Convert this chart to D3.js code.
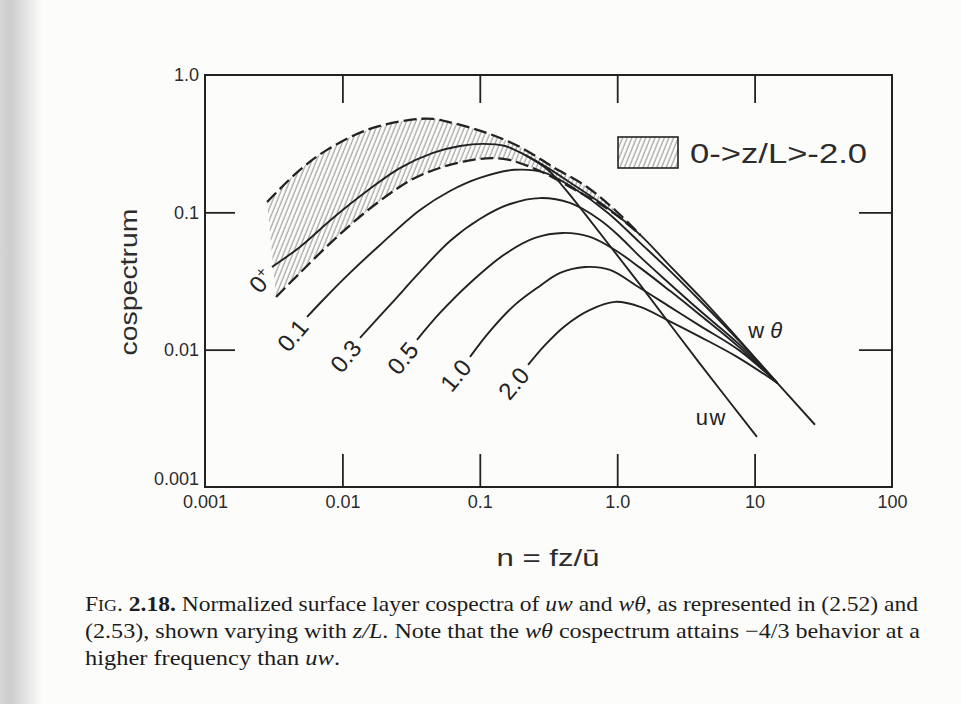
<!DOCTYPE html>
<html><head><meta charset="utf-8">
<script src="https://cdn.jsdelivr.net/npm/d3@7"></script>
<style>html,body{margin:0;padding:0;background:#fcfcfb;} svg{display:block;}</style>
</head><body><svg id="c" width="961" height="704"></svg>
<script>
// ---- data ----
const xTickValues = [0.001, 0.01, 0.1, 1, 10, 100];
const xTickLabels = ["0.001", "0.01", "0.1", "1.0", "10", "100"];
const yTickValues = [0.001, 0.01, 0.1, 1];
const yTickLabels = ["0.001", "0.01", "0.1", "1.0"];
const xInnerTicks = [0.01, 0.1, 1, 10];
const yInnerTicks = [0.01, 0.1];

const zLabels = ["0+", "0.1", "0.3", "0.5", "1.0", "2.0"];

// shaded unstable range 0 > z/L > -2.0 : upper and lower dashed bounds [n, cospectrum]
const bandUpper = [[0.00283,0.119],[0.00491,0.204],[0.00773,0.285],[0.0151,0.398],[0.0310,0.471],[0.0456,0.479],[0.0638,0.447],[0.113,0.378],[0.196,0.299],[0.341,0.214],[0.603,0.153],[0.964,0.104],[1.47,0.0685]];
const bandLower = [[0.00329,0.0242],[0.00491,0.0362],[0.00913,0.0662],[0.0179,0.117],[0.0349,0.181],[0.0807,0.237],[0.148,0.245],[0.261,0.204],[0.453,0.153],[0.750,0.115],[1.05,0.0910],[1.47,0.0685]];

// stable curves (shared low-frequency part + wθ branch)
const curve0p = [[0.00307,0.0400],[0.00491,0.0560],[0.00855,0.0910],[0.0151,0.143],[0.0262,0.210],[0.0456,0.271],[0.0718,0.304],[0.1055,0.315],[0.153,0.304],[0.213,0.262],[0.314,0.210],[0.493,0.156],[0.815,0.111],[1.47,0.0685],[2.42,0.0407],[4.01,0.0242],[7.83,0.0116],[14.6,0.00573],[27.5,0.00284]];
const curve01 = [[0.00553,0.0173],[0.00723,0.0230],[0.01135,0.0362],[0.01878,0.0579],[0.0367,0.104],[0.0607,0.143],[0.100,0.178],[0.180,0.204],[0.298,0.194],[0.493,0.148],[0.857,0.099],[1.47,0.0599],[2.42,0.0375],[4.01,0.0227],[7.83,0.0114],[14.6,0.00573]];
const curve03 = [[0.01343,0.0122],[0.0233,0.0223],[0.0367,0.0368],[0.0607,0.0619],[0.100,0.0895],[0.166,0.115],[0.274,0.127],[0.453,0.117],[0.750,0.0880],[1.05,0.0662],[1.47,0.0474],[2.42,0.0301],[4.01,0.0192],[7.83,0.0108],[14.6,0.00573]];
const curve05 = [[0.0349,0.0118],[0.0513,0.0185],[0.0849,0.0306],[0.153,0.0498],[0.252,0.0651],[0.403,0.0708],[0.634,0.0662],[0.964,0.0532],[1.47,0.0394],[2.42,0.0268],[4.01,0.0179],[7.83,0.0103],[14.6,0.00573]];
const curve10 = [[0.0849,0.00887],[0.119,0.0137],[0.180,0.0212],[0.274,0.0291],[0.384,0.0362],[0.583,0.0400],[0.886,0.0381],[1.39,0.0291],[2.42,0.0205],[4.01,0.0149],[7.83,0.0098],[14.6,0.00573]];
const curve20 = [[0.2245,0.00775],[0.298,0.0108],[0.417,0.0149],[0.634,0.0195],[0.964,0.0223],[1.47,0.0205],[2.30,0.0165],[4.01,0.0124],[7.45,0.00887],[14.6,0.00573]];

// uw branch (steeper high-frequency fall-off)
const uwBranch = [[0.213,0.262],[0.314,0.2035],[0.417,0.148],[0.583,0.0974],[0.886,0.0569],[1.47,0.0296],[4.01,0.00788],[10.4,0.00232]];

const legendLabel = "0->z/L>-2.0";
const xTitle = "n = fz/ū";
const yTitle = "cospectrum";

// ---- drawing ----
const W = 961, H = 704;
const M = {left:205, right:892, top:75, bottom:487};
const svg = d3.select("#c");
const defs = svg.append("defs");

const grad = defs.append("linearGradient").attr("id","shadow").attr("x1",0).attr("x2",1).attr("y1",0).attr("y2",0);
grad.append("stop").attr("offset","0").attr("stop-color","#d6d6d6");
grad.append("stop").attr("offset","0.25").attr("stop-color","#cdcdcd");
grad.append("stop").attr("offset","1").attr("stop-color","#fcfcfb");

svg.append("rect").attr("width",W).attr("height",H).attr("fill","#fcfcfb");
svg.append("rect").attr("x",0).attr("y",0).attr("width",42).attr("height",H).attr("fill","url(#shadow)");

const pat = defs.append("pattern").attr("id","hatch").attr("patternUnits","userSpaceOnUse")
  .attr("width",4.3).attr("height",10).attr("patternTransform","rotate(22)");
pat.append("line").attr("x1",1).attr("y1",-1).attr("x2",1).attr("y2",11).attr("stroke","#6a6a6a").attr("stroke-width",0.8);

const x = d3.scaleLog().domain([0.001,100]).range([M.left, M.right]);
const y = d3.scaleLog().domain([0.001,1]).range([M.bottom, M.top]);

const ink = "#222";
const sans = "'Liberation Sans', Arial, Helvetica, sans-serif";
const serif = "'Liberation Serif', 'Times New Roman', serif";

const line = d3.line().x(d=>x(d[0])).y(d=>y(d[1])).curve(d3.curveCatmullRom.alpha(0.5));

// hatched band
const bandPath = line(bandUpper) + line(bandLower.slice().reverse()).replace(/^M/,"L") + "Z";
svg.append("path").attr("d",bandPath).attr("fill","url(#hatch)").attr("stroke","none");
[bandUpper, bandLower].forEach(b=>{
  svg.append("path").attr("d",line(b)).attr("fill","none").attr("stroke",ink)
    .attr("stroke-width",2.3).attr("stroke-dasharray","13,5");
});

// curves
const curves = [curve0p, curve01, curve03, curve05, curve10, curve20];
curves.forEach(c=>{
  svg.append("path").attr("d",line(c)).attr("fill","none").attr("stroke",ink).attr("stroke-width",1.9);
});
svg.append("path").attr("d",line(uwBranch)).attr("fill","none").attr("stroke",ink).attr("stroke-width",1.9);

// curve labels at the start of each curve
curves.forEach((c,i)=>{
  const px = x(c[0][0]) - 2, py = y(c[0][1]) + 7;
  const t = svg.append("text").attr("transform",`translate(${px},${py}) rotate(-50)`)
    .attr("text-anchor","end").attr("dominant-baseline","middle")
    .attr("font-family",sans).attr("font-size",24).attr("fill",ink);
  if (zLabels[i] === "0+") {
    t.append("tspan").text("0");
    t.append("tspan").attr("font-size",15).attr("dy",-7).text("+");
  } else {
    t.text(zLabels[i]);
  }
});

// uw / wθ labels
const uwEnd = uwBranch[uwBranch.length-1];
svg.append("text").attr("x",x(uwEnd[0])-30).attr("y",y(uwEnd[1])-12)
  .attr("text-anchor","end").attr("font-family",sans).attr("font-size",22).attr("fill",ink)
  .attr("letter-spacing",1.5).text("uw");
const wtPt = curve10[curve10.length-1];
const wt = svg.append("text").attr("x",x(wtPt[0])-29).attr("y",y(wtPt[1])-45)
  .attr("font-family",sans).attr("font-size",22).attr("fill",ink);
wt.append("tspan").text("w ");
wt.append("tspan").attr("font-style","italic").text("θ");

// frame
svg.append("rect").attr("x",M.left).attr("y",M.top).attr("width",M.right-M.left).attr("height",M.bottom-M.top)
  .attr("fill","none").attr("stroke",ink).attr("stroke-width",2);

// inner ticks
function styleTicks(g){ g.select(".domain").remove(); g.selectAll("line").attr("stroke",ink).attr("stroke-width",1.8); }
svg.append("g").attr("transform",`translate(0,${M.bottom})`)
  .call(d3.axisBottom(x).tickValues(xInnerTicks).tickSize(-33).tickFormat("")).call(styleTicks);
svg.append("g").attr("transform",`translate(0,${M.top})`)
  .call(d3.axisTop(x).tickValues(xInnerTicks).tickSize(-28).tickFormat("")).call(styleTicks);
svg.append("g").attr("transform",`translate(${M.left},0)`)
  .call(d3.axisLeft(y).tickValues(yInnerTicks).tickSize(-30).tickFormat("")).call(styleTicks);
svg.append("g").attr("transform",`translate(${M.right},0)`)
  .call(d3.axisRight(y).tickValues(yInnerTicks).tickSize(-33).tickFormat("")).call(styleTicks);

// tick labels
function styleLabels(g){
  g.select(".domain").remove(); g.selectAll("line").remove();
  g.selectAll("text").attr("font-family",sans).attr("font-size",18).attr("fill","#2c2c2c");
}
svg.append("g").attr("transform",`translate(0,${M.bottom})`)
  .call(d3.axisBottom(x).tickValues(xTickValues).tickSize(0).tickPadding(8).tickFormat((d,i)=>xTickLabels[i]))
  .call(styleLabels);
svg.append("g").attr("transform",`translate(${M.left},0)`)
  .call(d3.axisLeft(y).tickValues(yTickValues).tickSize(0).tickPadding(6).tickFormat((d,i)=>yTickLabels[i]))
  .call(styleLabels)
  .call(g=>g.selectAll(".tick text").attr("dy",d=> d===0.001 ? "-0.12em" : "0.32em"));

// axis titles
svg.append("text").attr("x",548).attr("y",566)
  .attr("text-anchor","middle").attr("font-family",sans).attr("font-size",24).attr("fill","#2c2c2c")
  .attr("textLength",103).attr("lengthAdjust","spacingAndGlyphs").text(xTitle);
svg.append("text").attr("transform","translate(137,282) rotate(-90)")
  .attr("text-anchor","middle").attr("font-family",sans).attr("font-size",24).attr("fill","#2c2c2c")
  .attr("textLength",147).attr("lengthAdjust","spacingAndGlyphs").text(yTitle);

// legend
svg.append("rect").attr("x",618).attr("y",137).attr("width",60).attr("height",31)
  .attr("fill","url(#hatch)").attr("stroke",ink).attr("stroke-width",1.6);
svg.append("text").attr("x",690).attr("y",163).attr("font-family",sans).attr("font-size",27)
  .attr("fill","#2c2c2c").attr("textLength",177).attr("lengthAdjust","spacingAndGlyphs").text(legendLabel);

// caption
const cap = svg.append("g").attr("font-family",serif).attr("font-size",21).attr("fill","#1c1c1c");
function capLine(yy, parts, len){
  const t = cap.append("text").attr("x",85).attr("y",yy);
  if (len) t.attr("textLength",len).attr("lengthAdjust","spacingAndGlyphs");
  parts.forEach(p=>{
    const s = t.append("tspan").text(p.t);
    if (p.i) s.attr("font-style","italic");
    if (p.b) s.attr("font-weight","bold");
    if (p.s) s.attr("font-size",p.s);
  });
}
capLine(611, [{t:"F"},{t:"IG",s:16},{t:". "},{t:"2.18.",b:1},{t:" Normalized surface layer cospectra of "},{t:"uw",i:1},{t:" and "},{t:"wθ",i:1},{t:", as represented in (2.52) and"}], 833);
capLine(638, [{t:"(2.53), shown varying with "},{t:"z/L",i:1},{t:". Note that the "},{t:"wθ",i:1},{t:" cospectrum attains −4/3 behavior at a"}], 835);
capLine(665, [{t:"higher frequency than "},{t:"uw",i:1},{t:"."}], 255);
</script></body></html>
